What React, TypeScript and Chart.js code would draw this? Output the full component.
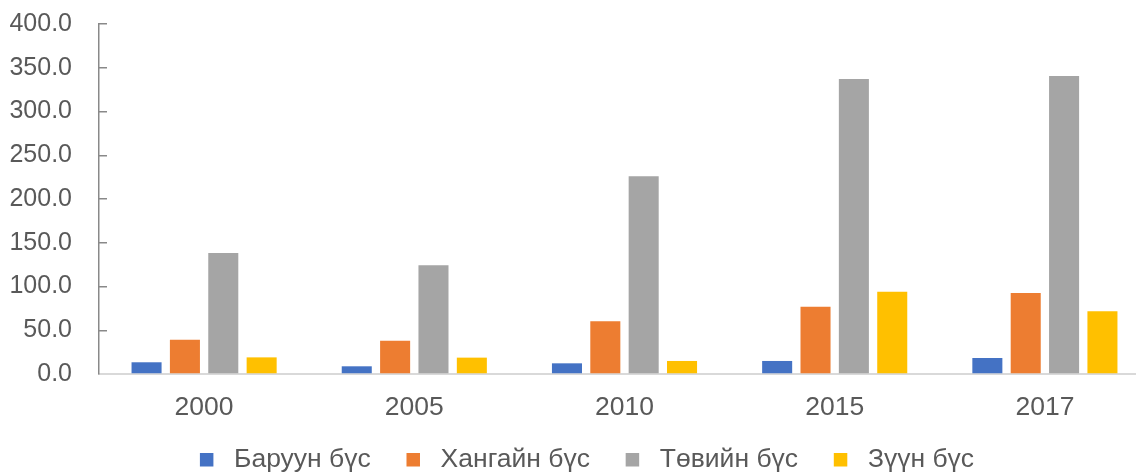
import React, { useEffect, useRef } from "react";
import { Chart, registerables } from "chart.js";

Chart.register(...registerables);

const categories = ["2000", "2005", "2010", "2015", "2017"];
const seriesNames = ["Баруун бүс", "Хангайн бүс", "Төвийн бүс", "Зүүн бүс"];
const baruun = [13.4, 8.8, 12.2, 14.9, 18.3];
const khangai = [39.2, 38.0, 60.2, 76.9, 92.6];
const tuv = [138.3, 124.2, 225.9, 337.1, 340.6];
const zuun = [19.0, 18.7, 14.9, 94.1, 71.7];
const seriesColors = ["#4472C4", "#ED7D31", "#A5A5A5", "#FFC000"];
const yMin = 0;
const yMax = 400;
const yStep = 50;

const FONT = "'Liberation Sans', Arial, sans-serif";
const TEXT = "#595959";

export default function App() {
  const ref = useRef<HTMLCanvasElement | null>(null);

  useEffect(() => {
    if (!ref.current) return;
    const values = [baruun, khangai, tuv, zuun];
    const chart = new Chart(ref.current, {
      type: "bar",
      data: {
        labels: categories,
        datasets: seriesNames.map((name, i) => ({
          label: name,
          data: values[i],
          backgroundColor: seriesColors[i],
          borderWidth: 0,
          barPercentage: 0.783,
          categoryPercentage: 0.73,
          yAxisID: "y",
        })),
      },
      options: {
        animation: false,
        responsive: false,
        maintainAspectRatio: false,
        layout: { padding: { left: 0, right: 0, top: 24, bottom: -9 } },
        plugins: {
          tooltip: { enabled: false },
          legend: {
            position: "bottom",
            labels: {
              color: TEXT,
              font: { family: FONT, size: 26.5 },
              boxWidth: 13.5,
              boxHeight: 13.5,
              padding: 21,
              generateLabels: (c: any) => {
                const items = Chart.defaults.plugins.legend.labels.generateLabels(c);
                return items.map((it: any, i: number) => ({
                  ...it,
                  text: " " + it.text + (i < items.length - 1 ? "  " : ""),
                }));
              },
            },
          },
        },
        scales: {
          x: {
            grid: { display: false },
            border: { display: true, color: "#d9d9d9", width: 2 },
            ticks: {
              color: TEXT,
              font: { family: FONT, size: 26.5 },
              padding: 10,
              maxRotation: 0,
            },
            afterFit: (s: any) => {
              s.height = 51.5;
              s.paddingLeft = 0;
              s.paddingRight = 0;
            },
          },
          y: {
            min: yMin,
            max: yMax,
            ticks: {
              stepSize: yStep,
              color: TEXT,
              font: { family: FONT, size: 25 },
              padding: 35,
              callback: (v: any) => Number(v).toFixed(1),
            },
            grid: {
              drawOnChartArea: false,
              drawTicks: true,
              tickLength: -8,
              color: "#898989",
              lineWidth: 1.5,
            },
            border: { display: true, color: "#898989", width: 1.5 },
            afterFit: (s: any) => {
              s.width = 99;
              s.paddingTop = 0;
              s.paddingBottom = 0;
            },
          },
          yRightSpace: {
            position: "right",
            display: true,
            grid: { display: false },
            border: { display: false },
            ticks: { display: false },
            afterFit: (s: any) => {
              s.width = 24;
              s.paddingTop = 0;
              s.paddingBottom = 0;
            },
          },
        },
      },
    });
    return () => chart.destroy();
  }, []);

  return (
    <div
      style={{
        position: "absolute",
        left: 0,
        top: 0,
        width: 1136,
        height: 474,
        overflow: "hidden",
        background: "#fff",
      }}
    >
      <canvas ref={ref} width={1174} height={474} style={{ width: 1174, height: 474 }} />
    </div>
  );
}
